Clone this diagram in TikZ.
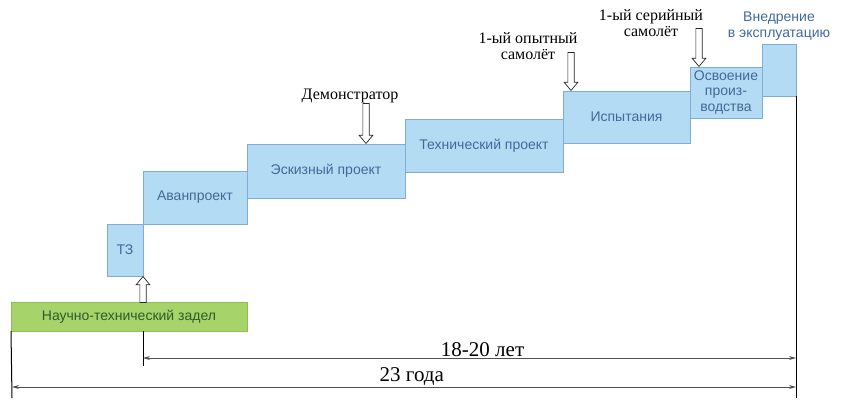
\documentclass[tikz,border=0pt]{standalone}
\usepackage{fontspec}
\setmainfont{Liberation Serif}
\setsansfont{Liberation Sans}
\usepackage{xcolor}
\usepackage{tikz}
\usetikzlibrary{positioning, arrows.meta, shapes.arrows}
\definecolor{stagefill}{HTML}{B3DCF4}
\definecolor{stageline}{HTML}{7FADD3}
\definecolor{stagetext}{HTML}{42699A}
\definecolor{basefill}{HTML}{A6D46B}
\definecolor{baseline}{HTML}{8DBE55}
\definecolor{basetext}{HTML}{2F5A2A}
\definecolor{dimline}{HTML}{505050}

\begin{document}
\begin{tikzpicture}[x=1pt, y=-1pt,
    stage/.style={draw=stageline, fill=stagefill, text=stagetext, anchor=north west,
      inner sep=0pt, outer sep=0pt, align=center, font=\sffamily\fontsize{14}{16}\selectfont},
    label/.style={font=\rmfamily\fontsize{16}{17}\selectfont, align=center, inner sep=0pt},
    hollow/.style={single arrow, draw=black!85, fill=white, line width=0.7pt, anchor=tip,
      inner xsep=0pt, inner ysep=2.8pt, text height=0pt, text depth=0pt,
      single arrow head extend=3.8pt, single arrow tip angle=80},
    dim/.style={draw=dimline, line width=0.8pt, {Stealth[length=7pt, width=4pt]}-{Stealth[length=7pt, width=4pt]}}]
  \useasboundingbox (0,0) rectangle (845,400);
  % stages
  \node[stage, minimum width=36pt, minimum height=52pt] (tz) at (107,224) {ТЗ};
  \node[stage, minimum width=104pt, minimum height=53pt] (avan) at (143,171) {Аванпроект};
  \node[stage, minimum width=158pt, minimum height=54pt] (eskiz) at (247,144) {Эскизный проект};
  \node[stage, minimum width=158pt, minimum height=53pt] (tech) at (405,119) {Технический проект};
  \node[stage, minimum width=127pt, minimum height=52pt] (test) at (563,91) {Испытания};
  \node[stage, minimum width=72pt, minimum height=51pt, font=\sffamily\fontsize{14}{15.5}\selectfont] (prod) at (690,67) {Освоение\\произ-\\водства};
  \node[stage, minimum width=34pt, minimum height=52pt] (oper) at (762,44) {};
  \node[stage, draw=baseline, fill=basefill, text=basetext, minimum width=236pt, minimum height=29pt] (base) at (11,302) {Научно-технический задел};
  % labels above
  \node[label] (demo) at (350,96) {Демонстратор};
  \node[label] (proto) at (528,46) {1-ый опытный\\[-1pt]самолёт};
  \node[label] (serial) at (651,23) {1-ый серийный\\[-1pt]самолёт};
  \node[font=\sffamily\fontsize{14}{15.5}\selectfont, text=stagetext, align=center, inner sep=0pt] (intro) at (779,26) {Внедрение\\в эксплуатацию};
  % hollow arrows
  \node[hollow, rotate=90, minimum height=26pt] (up) at (tz.south east) {};
  \node[hollow, rotate=-90, minimum height=40pt] (darr1) at (366,144) {};
  \node[hollow, rotate=-90, minimum height=38pt] (darr2) at (571,91) {};
  \node[hollow, rotate=-90, minimum height=38pt] (darr3) at (699,67) {};
  % time span
  \coordinate (l0) at (12,398);
  \coordinate (m0) at (143,366);
  \coordinate (r0) at (796,398);
  \draw[line width=1pt] (base.south west) -- (l0);
  \draw[line width=1pt] (tz.south east |- base.south) -- (m0);
  \draw[line width=1pt] (oper.south east) -- (r0);
  \draw[dim] (143,358) -- node[pos=0.52, above=1pt, font=\rmfamily\fontsize{21}{23}\selectfont, inner sep=0pt] (span1) {18-20 лет} (796,358);
  \draw[dim] (12,387) -- node[pos=0.51, above=1pt, font=\rmfamily\fontsize{21}{23}\selectfont, inner sep=0pt] (span2) {23 года} (796,387);
\end{tikzpicture}
\end{document}
